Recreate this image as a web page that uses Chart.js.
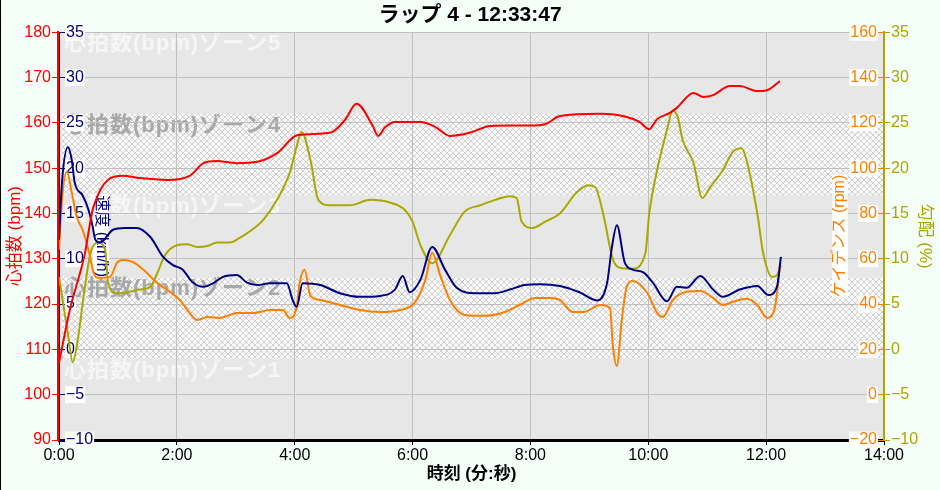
<!DOCTYPE html>
<html>
<head>
<meta charset="utf-8">
<script src="https://cdn.jsdelivr.net/npm/chart.js@4.4.1/dist/chart.umd.min.js"></script>
<style>
  html, body { margin: 0; padding: 0; background: #f5fffa; }
  canvas { display: block; }
</style>
</head>
<body>
<canvas id="lapChart" width="940" height="490"></canvas>
<script>
// time in seconds from lap start
const hrTime = [0, 11, 26, 35, 65, 82, 110, 133, 147, 161, 181, 202, 222, 243, 276, 291, 303, 319, 325, 332, 342, 368, 383, 398, 418, 439, 459, 480, 495, 510, 551, 578, 591, 601, 609, 622, 629, 646, 656, 666, 683, 693, 711, 721, 734];
const hrValues = [107, 118.7, 130.8, 141.4, 148.3, 147.8, 147.4, 148.3, 151.1, 151.6, 151.1, 151.4, 153.3, 157.3, 157.8, 160.6, 164.2, 159.5, 157.1, 159, 160.2, 160.2, 159.1, 157.1, 157.8, 159.3, 159.4, 159.4, 159.7, 161.5, 162, 161.3, 160.2, 158.6, 160.8, 162.2, 163.3, 166.6, 165.7, 166.1, 168.1, 168.1, 167, 167.2, 169.2];

const speedTime = [0, 3, 9, 13, 16, 24, 30, 34, 37, 42, 55, 67, 79, 93, 106, 116, 126, 136, 147, 157, 167, 181, 191, 202, 215, 232, 238, 242, 248, 266, 286, 306, 327, 342, 350, 357, 368, 380, 393, 405, 424, 444, 459, 474, 490, 510, 530, 548, 558, 563, 568, 576, 584, 595, 605, 619, 629, 639, 653, 666, 676, 693, 711, 722, 731, 735];
const speedValues = [12.1, 18.4, 22.3, 20.9, 18.4, 17, 15.4, 13.7, 12.1, 11.8, 13.2, 13.4, 13.4, 12.4, 10.2, 9.3, 8.8, 7.4, 6.9, 7.3, 8, 8.2, 7.4, 7.1, 7.3, 7.3, 5.4, 4.7, 7.3, 7.1, 6.2, 5.8, 5.9, 6.6, 8.1, 6.3, 7.7, 11.3, 8.8, 6.8, 6.2, 6.2, 6.6, 7.1, 7.2, 7, 6.3, 5.4, 7.3, 11.3, 13.7, 9.6, 8.8, 8.5, 7.3, 5.3, 6.9, 6.8, 8.1, 6.6, 5.8, 6.6, 7, 6, 6.9, 10.2];

const cadTime = [0, 3, 8, 13, 18, 24, 30, 35, 39, 52, 59, 65, 75, 86, 100, 110, 123, 133, 141, 151, 164, 174, 181, 198, 215, 228, 235, 242, 245, 250, 256, 266, 286, 306, 327, 347, 362, 373, 380, 388, 398, 413, 434, 454, 469, 485, 500, 510, 523, 534, 551, 561, 564, 568, 573, 578, 584, 599, 609, 615, 625, 639, 653, 666, 676, 686, 700, 711, 721, 729, 734];
const cadValues = [64, 86, 98.4, 89.1, 78.5, 72.8, 63.9, 54.2, 51.6, 52, 58.2, 59.5, 58.6, 55.1, 49.3, 46.3, 41.8, 36.1, 33, 34.3, 33.9, 35.2, 36.1, 36.1, 37.4, 37.4, 33.9, 38.7, 49.3, 55.1, 43.6, 41.8, 39.6, 37.4, 36.5, 37.4, 40.5, 50.7, 62.6, 52.9, 41.8, 35.2, 34.8, 36.5, 39.6, 42.7, 42.7, 41.8, 36.5, 36.5, 39.6, 38.3, 21.1, 12.7, 33, 47.6, 50.2, 44.9, 36.1, 34.3, 41.8, 45.4, 45.8, 42.7, 39.6, 41, 42.3, 39.6, 33.9, 38.7, 56.4];

const gradTime = [0, 9, 14, 19, 26, 32, 39, 47, 50, 59, 69, 82, 93, 100, 108, 120, 130, 141, 151, 161, 174, 184, 194, 208, 222, 235, 243, 247, 256, 264, 276, 296, 317, 337, 352, 360, 368, 380, 398, 413, 429, 444, 459, 466, 471, 482, 495, 510, 527, 539, 546, 554, 564, 571, 584, 597, 601, 609, 619, 625, 630, 635, 646, 655, 663, 676, 686, 695, 700, 711, 717, 726, 731, 735];
const gradValues = [8, 1.8, -1.4, 1, 6.6, 10.6, 11.8, 11, 7.3, 6.2, 6.3, 6.6, 6.9, 8.4, 10.4, 11.5, 11.6, 11.3, 11.4, 11.8, 11.8, 12.3, 13, 14.3, 16.5, 19.5, 22.8, 24, 20.9, 16.5, 15.9, 15.9, 16.5, 16.2, 15.4, 14.1, 11.5, 9.5, 12.6, 15.2, 15.9, 16.5, 16.9, 16.7, 14.1, 13.4, 14.1, 15, 17.3, 18.1, 17.9, 15, 9.9, 9, 8.9, 10.6, 15, 19.8, 24.2, 26.4, 25.6, 23.1, 20.6, 16.7, 17.9, 19.8, 21.8, 22.2, 20.9, 15, 10.6, 8, 8.2, 9.3];

const xTickSeconds = [0, 120, 240, 360, 480, 600, 720, 840];
const xTickLabels = ['0:00', '2:00', '4:00', '6:00', '8:00', '10:00', '12:00', '14:00'];

const zoneNames = ['心拍数(bpm)ゾーン1', '心拍数(bpm)ゾーン2', '心拍数(bpm)ゾーン3', '心拍数(bpm)ゾーン4', '心拍数(bpm)ゾーン5'];
const zoneLow = [0, 108, 126, 144, 162];
const zoneHigh = [108, 126, 144, 162, 180];

const FONT = "'Liberation Sans', 'Noto Sans CJK JP', sans-serif";
const RED = '#ff0000';
const NAVY = '#000080';
const ORANGE = '#ff8000';
const OLIVE = '#a8a800';

const minus = v => String(v).replace('-', '\u2212');
const toPoints = (ts, vs) => ts.map((t, i) => ({ x: t, y: vs[i] }));

// hatch for zones 2 and 4
const pat = document.createElement('canvas');
pat.width = 6; pat.height = 6;
const pctx = pat.getContext('2d');
pctx.fillStyle = '#f7f7f7';
pctx.fillRect(0, 0, 6, 6);
pctx.strokeStyle = '#d2d2d2';
pctx.lineWidth = 1;
pctx.beginPath();
pctx.moveTo(0, 0); pctx.lineTo(6, 6);
pctx.moveTo(6, 0); pctx.lineTo(0, 6);
pctx.stroke();

function vTitle(ctx, text, x, y, rot, color) {
  ctx.save();
  ctx.translate(x, y);
  ctx.rotate(rot);
  ctx.font = '16px ' + FONT;
  const w = ctx.measureText(text).width;
  ctx.fillStyle = '#ffffff';
  ctx.fillRect(-w / 2 - 1, -8, w + 2, 16);
  ctx.fillStyle = color;
  ctx.textAlign = 'center';
  ctx.textBaseline = 'middle';
  ctx.fillText(text, 0, 0);
  ctx.restore();
}

const zonePlugin = {
  id: 'zones',
  beforeDraw(chart) {
    const { ctx, chartArea: a } = chart;
    const y = chart.scales.hr;
    ctx.save();
    ctx.fillStyle = '#f5fffa';
    ctx.fillRect(0, 0, chart.width, chart.height);
    ctx.fillStyle = '#000';
    ctx.fillRect(0, 0, 1, chart.height);
    ctx.fillStyle = '#e7e7e7';
    ctx.fillRect(a.left, a.top, a.right - a.left, a.bottom - a.top);
    ctx.fillStyle = ctx.createPattern(pat, 'repeat');
    zoneLow.forEach((lo, i) => {
      if (i % 2 === 1) {
        const top = y.getPixelForValue(zoneHigh[i]);
        const bot = y.getPixelForValue(lo);
        ctx.fillRect(a.left, top, a.right - a.left, bot - top);
      }
    });
    ctx.font = 'bold 22px ' + FONT;
    ctx.letterSpacing = '1px';
    ctx.textBaseline = 'middle';
    ctx.textAlign = 'left';
    zoneNames.forEach((name, i) => {
      const top = y.getPixelForValue(Math.min(zoneHigh[i], y.max));
      ctx.fillStyle = i % 2 === 1 ? '#a8a8a8' : '#f6f6f6';
      ctx.fillText(name, a.left + 5, top + 12);
    });
    ctx.restore();
  },
  beforeDatasetsDraw(chart) {
    const { ctx, chartArea: a, scales } = chart;
    const cy = (a.top + a.bottom) / 2;
    vTitle(ctx, '速度 (km/h)', scales.speed.right + 42, cy, Math.PI / 2, NAVY);
    vTitle(ctx, 'ケイデンス (rpm)', scales.cad.left - 44, cy, -Math.PI / 2, ORANGE);
  }
};

const tickFont = { family: FONT, size: 16, lineHeight: 1.05 };
const lineStyle = { borderWidth: 2, pointRadius: 0, cubicInterpolationMode: 'monotone', fill: false };

new Chart(document.getElementById('lapChart'), {
  type: 'line',
  data: {
    datasets: [
      { label: '心拍数', data: toPoints(hrTime, hrValues), yAxisID: 'hr', borderColor: RED, ...lineStyle },
      { label: '速度', data: toPoints(speedTime, speedValues), yAxisID: 'speed', borderColor: NAVY, ...lineStyle },
      { label: 'ケイデンス', data: toPoints(cadTime, cadValues), yAxisID: 'cad', borderColor: ORANGE, ...lineStyle },
      { label: '勾配', data: toPoints(gradTime, gradValues), yAxisID: 'grad', borderColor: OLIVE, ...lineStyle }
    ]
  },
  options: {
    responsive: false,
    devicePixelRatio: 1,
    animation: false,
    layout: { padding: 0 },
    plugins: {
      legend: { display: false },
      tooltip: { enabled: false },
      title: {
        display: true,
        text: 'ラップ 4 - 12:33:47',
        color: '#000',
        font: { family: FONT, size: 21, weight: 'bold', lineHeight: 1.2 },
        padding: { top: 3, bottom: 4 }
      }
    },
    scales: {
      x: {
        type: 'linear',
        min: 0,
        max: 840,
        afterFit: s => { s.height = 50; },
        ticks: {
          stepSize: 120,
          maxRotation: 0,
          color: '#000',
          font: tickFont,
          padding: 2,
          callback: v => xTickLabels[xTickSeconds.indexOf(v)]
        },
        grid: {
          color: c => (c.tick && (c.tick.value === 0 || c.tick.value === 840)) ? 'rgba(0,0,0,0)' : '#c0c0c0',
          tickColor: '#000',
          tickLength: 5
        },
        border: { color: '#000', width: 3, z: -1 },
        title: {
          display: true,
          text: '時刻 (分:秒)',
          color: '#000',
          font: { family: FONT, size: 17, weight: 'bold' },
          padding: { top: 0, bottom: 5 }
        }
      },
      hr: {
        position: 'left',
        weight: 1,
        min: 90,
        max: 180,
        afterFit: s => { s.width = 58; },
        ticks: { stepSize: 10, color: RED, font: tickFont, padding: 1 },
        grid: {
          color: c => (c.tick && c.tick.value === 90) ? 'rgba(0,0,0,0)' : '#c0c0c0',
          tickColor: RED,
          tickLength: 6
        },
        border: { color: RED, width: 2 },
        title: {
          display: true,
          text: '心拍数 (bpm)',
          color: RED,
          font: { family: FONT, size: 17 },
          padding: { top: 5, bottom: 0 }
        }
      },
      speed: {
        position: 'left',
        weight: 0,
        min: -10,
        max: 35,
        afterFit: s => { s.width = 1; },
        ticks: {
          stepSize: 5,
          mirror: true,
          padding: 7,
          color: NAVY,
          font: tickFont,
          showLabelBackdrop: true,
          backdropColor: '#ffffff',
          backdropPadding: { x: 1, y: 0 },
          callback: minus
        },
        grid: { drawOnChartArea: false, color: NAVY, tickLength: -7 },
        border: { color: NAVY, width: 1 }
      },
      cad: {
        position: 'right',
        weight: 0,
        min: -20,
        max: 160,
        afterFit: s => { s.width = 0; },
        ticks: {
          stepSize: 20,
          mirror: true,
          padding: -7,
          color: ORANGE,
          font: tickFont,
          showLabelBackdrop: true,
          backdropColor: '#ffffff',
          backdropPadding: { x: 1, y: 0 },
          callback: minus
        },
        grid: { drawOnChartArea: false, color: ORANGE, tickLength: -6 },
        border: { display: false }
      },
      grad: {
        position: 'right',
        weight: 1,
        min: -10,
        max: 35,
        afterFit: s => { s.width = 56; },
        ticks: { stepSize: 5, color: OLIVE, font: tickFont, padding: 1, callback: minus },
        grid: { drawOnChartArea: false, color: OLIVE, tickLength: 6 },
        border: { color: OLIVE, width: 2 },
        title: {
          display: true,
          text: '勾配 (%)',
          color: OLIVE,
          font: { family: FONT, size: 17 },
          padding: { top: 5, bottom: 0 }
        }
      }
    }
  },
  plugins: [zonePlugin]
});
</script>
</body>
</html>
